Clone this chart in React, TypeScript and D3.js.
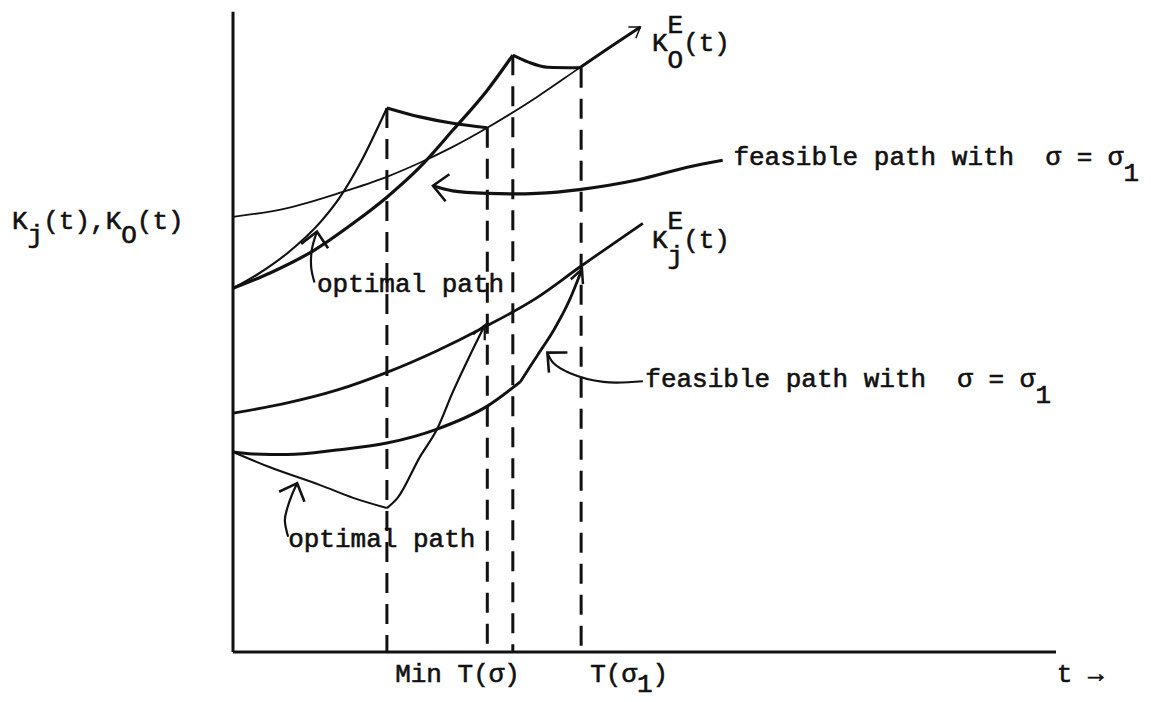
import * as d3 from 'd3';

const WIDTH = 1151;
const HEIGHT = 702;
const FONT = "'Courier New', 'Liberation Mono', monospace";
const FS = 26;

type Pt = [number, number];

// t runs 0..100 along the axis, K runs 0..100 up the axis
const tDomain: Pt = [0, 100];
const kDomain: Pt = [0, 100];

// envelope curves
const koE: Pt[] = [[0, 68.3], [6.6, 69.7], [13.0, 72.1], [18.7, 74.6], [22.7, 76.8], [26.7, 79.3], [30.9, 82.3], [36.9, 87.1], [42.1, 91.7], [46.2, 95.3], [49.5, 98.1]];
const kjE: Pt[] = [[0, 37.5], [6.6, 39.1], [12.6, 41.1], [18.7, 43.9], [24.8, 47.3], [30.4, 50.9], [36.9, 55.6], [42.1, 60.4], [49.8, 67.3]];

// upper paths, K_O
const optRiseO: Pt[] = [[0, 57.1], [3.0, 59.3], [6.6, 62.6], [10.7, 67.6], [13.0, 71.4], [15.4, 76.6], [18.7, 85.4]];
const optDropO: Pt[] = [[18.7, 85.4], [22.7, 84.0], [26.7, 83.0], [30.9, 82.3]];
const feasRiseO: Pt[] = [[0, 57.1], [4.5, 59.5], [9.9, 63.1], [14.6, 67.3], [18.7, 71.4], [22.7, 76.1], [26.7, 81.9], [30.9, 88.2], [34.0, 93.7]];
const feasDropO: Pt[] = [[34.0, 93.7], [35.9, 92.6], [38.2, 91.8], [42.1, 91.7]];
const feasTailO: Pt[] = koE.filter(d => d[0] >= 42);

// lower paths, K_j
const optFallJ: Pt[] = [[0, 31.4], [4.5, 29.0], [10.6, 26.2], [14.6, 24.2], [18.7, 22.6]];
const optRiseJ: Pt[] = [[18.7, 22.6], [20.0, 24.2], [22.7, 30.6], [24.8, 35.0], [26.7, 40.8], [28.8, 46.6], [30.6, 51.3]];
const feasFlatJ: Pt[] = [[0, 31.4], [2.4, 31.1], [6.6, 31.0], [12.6, 31.7], [18.7, 32.8], [24.8, 35.0], [30.9, 38.6], [34.9, 42.4]];
const feasUpJ: Pt[] = [[34.9, 42.4], [37.0, 46.6], [39.0, 50.6], [40.8, 55.0], [42.4, 60.1]];

// dashed drops: time, top of the line
const drops: Pt[] = [[18.7, 85.4], [30.9, 82.3], [34.0, 93.7], [42.3, 91.7]];

// pointer arrows for the notes
const noteFeasO: Pt[] = [[59.5, 77.2], [55.2, 76.1], [49.1, 74.1], [42.1, 72.6], [36.9, 72.0], [30.9, 72.0], [26.7, 72.4], [24.3, 73.2]];
const noteOptO: Pt[] = [[9.9, 58.0], [9.5, 60.4], [9.6, 63.3], [10.2, 66.0]];
const noteFeasJ: Pt[] = [[49.8, 42.5], [45.0, 42.4], [40.9, 43.8], [38.9, 45.4], [38.2, 47.0]];
const noteOptJ: Pt[] = [[6.7, 18.1], [6.3, 20.7], [6.6, 22.6], [7.2, 24.8], [7.8, 26.5]];

// label anchors (t, K)
const koELabel: Pt = [50.9, 94.3];
const kjELabel: Pt = [50.9, 63.4];
const feasOLabel: Pt = [60.8, 76.5];
const feasJLabel: Pt = [50.1, 41.6];
const optOLabel: Pt = [10.2, 56.5];
const optJLabel: Pt = [6.7, 16.5];

const tickTs = [19.7, 43.4, 100.1];
const tickTexts = ['Min T(σ)', 'T(σ', 't →'];

export default function App() {
  const x = d3.scaleLinear().domain(tDomain).range([233, 1056]);
  const y = d3.scaleLinear().domain(kDomain).range([652, 15]);

  const line = d3.line<Pt>()
    .x(d => x(d[0]))
    .y(d => y(d[1]))
    .curve(d3.curveMonotoneX);

  // hand-drawn pointers bend back on themselves, so no monotone curve here
  const bend = d3.line<Pt>()
    .x(d => x(d[0]))
    .y(d => y(d[1]))
    .curve(d3.curveCatmullRom.alpha(0.5));

  const head = (pts: Pt[], len = 17, spread = 0.5, back = 1) => {
    const tip = pts[pts.length - 1];
    const ref = pts[pts.length - 1 - back];
    const tx = x(tip[0]), ty = y(tip[1]);
    const a = Math.atan2(y(ref[1]) - ty, x(ref[0]) - tx);
    const p1 = [tx + len * Math.cos(a + spread), ty + len * Math.sin(a + spread)];
    const p2 = [tx + len * Math.cos(a - spread), ty + len * Math.sin(a - spread)];
    return `M${p1[0]},${p1[1]}L${tx},${ty}L${p2[0]},${p2[1]}`;
  };

  const cw = FS * 0.6;
  const ink = '#111';
  const txt = { fontFamily: FONT, fontSize: FS, fill: ink, stroke: ink, strokeWidth: 0.6, whiteSpace: 'pre' as const };
  const x0 = x(0), yb = y(0);

  return (
    <svg width={WIDTH} height={HEIGHT} style={{ position: 'absolute', left: 0, top: 0, background: '#fff' }}>
      {/* axes */}
      <line x1={x0} y1={y(100.5)} x2={x0} y2={yb} stroke={ink} strokeWidth={3} />
      <line x1={x0} y1={yb} x2={x(100)} y2={yb} stroke={ink} strokeWidth={3} />

      {/* dashed drop lines */}
      {drops.map((d, i) => (
        <line key={i} x1={x(d[0])} y1={y(d[1])} x2={x(d[0])} y2={yb}
          stroke={ink} strokeWidth={3} strokeDasharray="20 11" />
      ))}

      {/* envelopes */}
      <path d={line(koE) ?? ''} fill="none" stroke={ink} strokeWidth={1.8} />
      <path d={head(koE, 12, 0.6)} fill="none" stroke={ink} strokeWidth={1.5} />
      <path d={line(kjE) ?? ''} fill="none" stroke={ink} strokeWidth={2.8} />

      {/* K_O paths */}
      <path d={line(optRiseO) ?? ''} fill="none" stroke={ink} strokeWidth={2.2} />
      <path d={line(optDropO) ?? ''} fill="none" stroke={ink} strokeWidth={3.2} />
      <path d={line(feasRiseO) ?? ''} fill="none" stroke={ink} strokeWidth={3.2} />
      <path d={line(feasDropO) ?? ''} fill="none" stroke={ink} strokeWidth={3} />
      <path d={line(feasTailO) ?? ''} fill="none" stroke={ink} strokeWidth={3} />

      {/* K_j paths */}
      <path d={line(optFallJ) ?? ''} fill="none" stroke={ink} strokeWidth={2} />
      <path d={line(optRiseJ) ?? ''} fill="none" stroke={ink} strokeWidth={2.2} />
      <path d={head(optRiseJ, 15, 0.45)} fill="none" stroke={ink} strokeWidth={2.2} />
      <path d={line(feasFlatJ) ?? ''} fill="none" stroke={ink} strokeWidth={3} />
      <path d={line(feasUpJ) ?? ''} fill="none" stroke={ink} strokeWidth={2.8} />
      <path d={head(feasUpJ, 15, 0.45)} fill="none" stroke={ink} strokeWidth={2.5} />

      {/* note arrows */}
      {[noteFeasO, noteOptO, noteFeasJ, noteOptJ].map((pts, i) => (
        <g key={i}>
          <path d={bend(pts) ?? ''} fill="none" stroke={ink} strokeWidth={i === 0 ? 3.2 : 2.2} />
          <path d={head(pts, 20, 0.75, 2)} fill="none" stroke={ink} strokeWidth={2.6} />
        </g>
      ))}

      {/* labels */}
      <text x={12} y={229} style={txt} xmlSpace="preserve">
        K<tspan dy={14}>j</tspan><tspan dy={-14}>(t),K</tspan><tspan dy={14}>O</tspan><tspan dy={-14}>(t)</tspan>
      </text>

      <text x={x(koELabel[0])} y={y(koELabel[1])} style={txt}>
        K<tspan dy={17}>O</tspan><tspan dy={-17}>(t)</tspan>
      </text>
      <text x={x(koELabel[0]) + cw} y={y(koELabel[1]) - 18} style={txt}>E</text>

      <text x={x(kjELabel[0])} y={y(kjELabel[1])} style={txt}>
        K<tspan dy={16}>j</tspan><tspan dy={-16}>(t)</tspan>
      </text>
      <text x={x(kjELabel[0]) + cw} y={y(kjELabel[1]) - 19} style={txt}>E</text>

      <text x={x(feasOLabel[0])} y={y(feasOLabel[1])} style={txt} xmlSpace="preserve">
        {'feasible path with  σ = σ'}<tspan dy={16}>1</tspan>
      </text>
      <text x={x(feasJLabel[0])} y={y(feasJLabel[1])} style={txt} xmlSpace="preserve">
        {'feasible path with  σ = σ'}<tspan dy={16}>1</tspan>
      </text>
      <text x={x(optOLabel[0])} y={y(optOLabel[1])} style={txt}>optimal path</text>
      <text x={x(optJLabel[0])} y={y(optJLabel[1])} style={txt}>optimal path</text>

      {/* t-axis labels */}
      {tickTs.map((t, i) => (
        <text key={i} x={x(t)} y={yb + 30} style={txt} xmlSpace="preserve">
          {tickTexts[i]}
          {i === 1 ? <><tspan dy={10}>1</tspan><tspan dy={-10}>)</tspan></> : null}
        </text>
      ))}
    </svg>
  );
}
